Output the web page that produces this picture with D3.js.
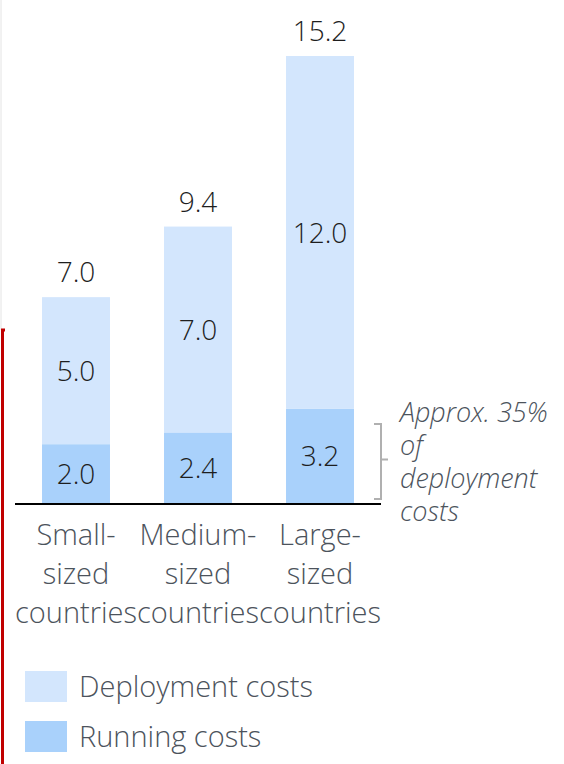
<!DOCTYPE html>
<html>
<head>
<meta charset="utf-8">
<script src="https://cdn.jsdelivr.net/npm/d3@7"></script>
<style>
  body { margin: 0; background: #fff; }
  svg { display: block; font-family: "Open Sans", sans-serif; }
</style>
</head>
<body>
<div id="chart"></div>
<script>
// data
var categories = ["Small-sized countries", "Medium-sized countries", "Large-sized countries"];
var categoryLines = [["Small-", "sized", "countries"], ["Medium-", "sized", "countries"], ["Large-", "sized", "countries"]];
var runningCosts = [2.0, 2.4, 3.2];
var deploymentCosts = [5.0, 7.0, 12.0];
var totals = [7.0, 9.4, 15.2];
var seriesNames = ["Deployment costs", "Running costs"];
var noteLines = ["Approx. 35%", "of", "deployment", "costs"];

var svgWidth = 564, svgHeight = 764;
var colDeploy = "#d3e6fd", colRun = "#a9d1fb";

var svg = d3.select("#chart").append("svg")
    .attr("width", svgWidth)
    .attr("height", svgHeight);

// frame artefacts at the left edge
svg.append("line").attr("x1", 1).attr("x2", 1).attr("y1", 0).attr("y2", 330)
    .attr("stroke", "#e4e4e4").attr("stroke-width", 1);
svg.append("path").attr("d", "M2.5,764 V330 H5")
    .attr("fill", "none").attr("stroke", "#c00000").attr("stroke-width", 3);

var x = d3.scaleBand()
    .domain(categories)
    .range([15, 381])
    .paddingInner(0.443)
    .paddingOuter(0.2215);

var y = d3.scaleLinear()
    .domain([0, 15.2])
    .range([503, 56]);

var rows = categories.map(function(c, i) {
    return { cat: c, run: runningCosts[i], dep: deploymentCosts[i], total: totals[i], lines: categoryLines[i] };
});

var g = svg.append("g");

// running costs (bottom)
g.selectAll("rect.run").data(rows).enter().append("rect")
    .attr("class", "run")
    .attr("x", d => x(d.cat))
    .attr("width", x.bandwidth())
    .attr("y", d => y(d.run))
    .attr("height", d => y(0) - y(d.run))
    .attr("fill", colRun);

// deployment costs (top)
g.selectAll("rect.dep").data(rows).enter().append("rect")
    .attr("class", "dep")
    .attr("x", d => x(d.cat))
    .attr("width", x.bandwidth())
    .attr("y", d => y(d.run + d.dep))
    .attr("height", d => y(d.run) - y(d.run + d.dep))
    .attr("fill", colDeploy);

var cx = d => x(d.cat) + x.bandwidth() / 2;
var numSize = 28;

// segment labels
g.selectAll("text.runLab").data(rows).enter().append("text")
    .attr("x", cx)
    .attr("y", d => (y(0) + y(d.run)) / 2)
    .attr("dy", "0.36em")
    .attr("text-anchor", "middle")
    .attr("font-size", numSize).attr("font-weight", 300)
    .attr("fill", "#1e1e1e")
    .text(d => d.run.toFixed(1));

g.selectAll("text.depLab").data(rows).enter().append("text")
    .attr("x", cx)
    .attr("y", d => (y(d.run) + y(d.run + d.dep)) / 2)
    .attr("dy", "0.36em")
    .attr("text-anchor", "middle")
    .attr("font-size", numSize).attr("font-weight", 300)
    .attr("fill", "#1e1e1e")
    .text(d => d.dep.toFixed(1));

g.selectAll("text.totLab").data(rows).enter().append("text")
    .attr("x", cx)
    .attr("y", d => y(d.total) - 15)
    .attr("text-anchor", "middle")
    .attr("font-size", numSize).attr("font-weight", 300)
    .attr("fill", "#1e1e1e")
    .text(d => d.total.toFixed(1));

// baseline
svg.append("line")
    .attr("x1", 15).attr("x2", 381)
    .attr("y1", y(0) + 1).attr("y2", y(0) + 1)
    .attr("stroke", "#000").attr("stroke-width", 2);

// category labels
var catLab = g.selectAll("text.cat").data(rows).enter().append("text")
    .attr("text-anchor", "middle")
    .attr("font-size", 29).attr("font-weight", 300)
    .attr("fill", "#4c535c");
catLab.selectAll("tspan").data(d => d.lines.map(l => ({ t: l, cx: cx(d) }))).enter().append("tspan")
    .attr("x", d => d.cx)
    .attr("y", (d, i) => 545 + i * 39)
    .text(d => d.t);

// bracket annotation over running costs of the large bar
var bTop = 424, bBot = 499, bMid = (bTop + bBot) / 2 - 2;
svg.append("path")
    .attr("d", "M374," + bTop + " H381 V" + bBot + " H374 M381," + bMid + " H388")
    .attr("fill", "none").attr("stroke", "#b0b0b0").attr("stroke-width", 2);

svg.append("text")
    .attr("font-size", 27).attr("font-weight", 300).attr("font-style", "italic")
    .attr("fill", "#4c535c")
    .selectAll("tspan").data(noteLines).enter().append("tspan")
    .attr("x", 400)
    .attr("y", (d, i) => 422 + i * 33)
    .text(d => d);

// legend
var legend = svg.append("g");
var legItems = legend.selectAll("g").data(seriesNames).enter().append("g")
    .attr("transform", (d, i) => `translate(25, ${671 + i * 50})`);
legItems.append("rect")
    .attr("width", 42).attr("height", 31)
    .attr("fill", (d, i) => i === 0 ? colDeploy : colRun);
legItems.append("text")
    .attr("x", 54).attr("y", 15.5).attr("dy", "0.36em")
    .attr("font-size", 29).attr("font-weight", 300)
    .attr("fill", "#4c535c")
    .text(d => d);
</script>
</body>
</html>
